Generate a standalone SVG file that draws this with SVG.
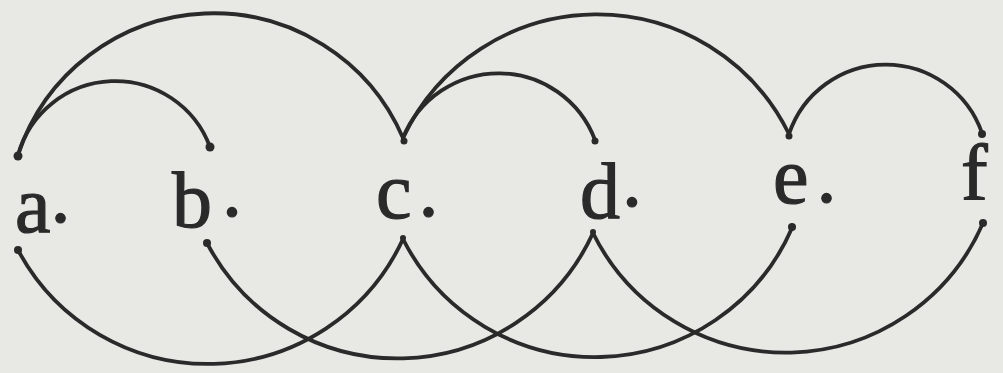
<svg xmlns="http://www.w3.org/2000/svg" width="1003" height="373" viewBox="0 0 1003 373">
<style>
.arc{fill:none;stroke:#2a2a2a;stroke-width:3.8;stroke-linecap:round}
.dot{fill:#2a2a2a}
.lbl{font-family:"Liberation Serif","Times New Roman",serif;font-size:80px;fill:#2a2a2a;stroke:#2a2a2a;stroke-width:1.2}
</style>
<rect width="1003" height="373" fill="#e8e8e5"/>
<g id="connectors">
<path class="arc" d="M18,155 A206,206 0 0 1 403,138"/>
<path class="arc" d="M18,155 A101,101 0 0 1 210,147"/>
<path class="arc" d="M403,138 A214,214 0 0 1 789,134"/>
<path class="arc" d="M403,138 A103,103 0 0 1 595,140"/>
<path class="arc" d="M789,134 A102,102 0 0 1 982,133"/>
<path class="arc" d="M18,250 A215,215 0 0 0 403,239"/>
<path class="arc" d="M207,243 A215,215 0 0 0 593,233"/>
<path class="arc" d="M403,239 A215,215 0 0 0 792,228"/>
<path class="arc" d="M593,233 A215,215 0 0 0 983,223"/>
</g>
<g id="node-a">
<circle class="dot" cx="18" cy="156" r="4.5"/>
<circle class="dot" cx="18" cy="250" r="4"/>
<text class="lbl" x="15" y="232">a<tspan dy="-10">.</tspan></text>
</g>
<g id="node-b">
<circle class="dot" cx="210" cy="147" r="4.5"/>
<circle class="dot" cx="207" cy="243" r="4"/>
<text class="lbl" x="172" y="227">b<tspan dx="10" dy="-11">.</tspan></text>
</g>
<g id="node-c">
<circle class="dot" cx="404" cy="141" r="3.5"/>
<circle class="dot" cx="403" cy="238" r="3"/>
<text class="lbl" x="376" y="218">c<tspan dx="7" dy="-2">.</tspan></text>
</g>
<g id="node-d">
<circle class="dot" cx="595" cy="141" r="3.5"/>
<circle class="dot" cx="593" cy="232" r="3"/>
<text class="lbl" x="580" y="218">d<tspan dx="2" dy="-12">.</tspan></text>
</g>
<g id="node-e">
<circle class="dot" cx="789" cy="136" r="3.5"/>
<circle class="dot" cx="792" cy="227" r="4"/>
<text class="lbl" x="773" y="203">e<tspan dx="8" dy="-1">.</tspan></text>
</g>
<g id="node-f">
<circle class="dot" cx="982" cy="134" r="4"/>
<circle class="dot" cx="983" cy="223" r="4"/>
<text class="lbl" x="961" y="200">f</text>
</g>
</svg>
